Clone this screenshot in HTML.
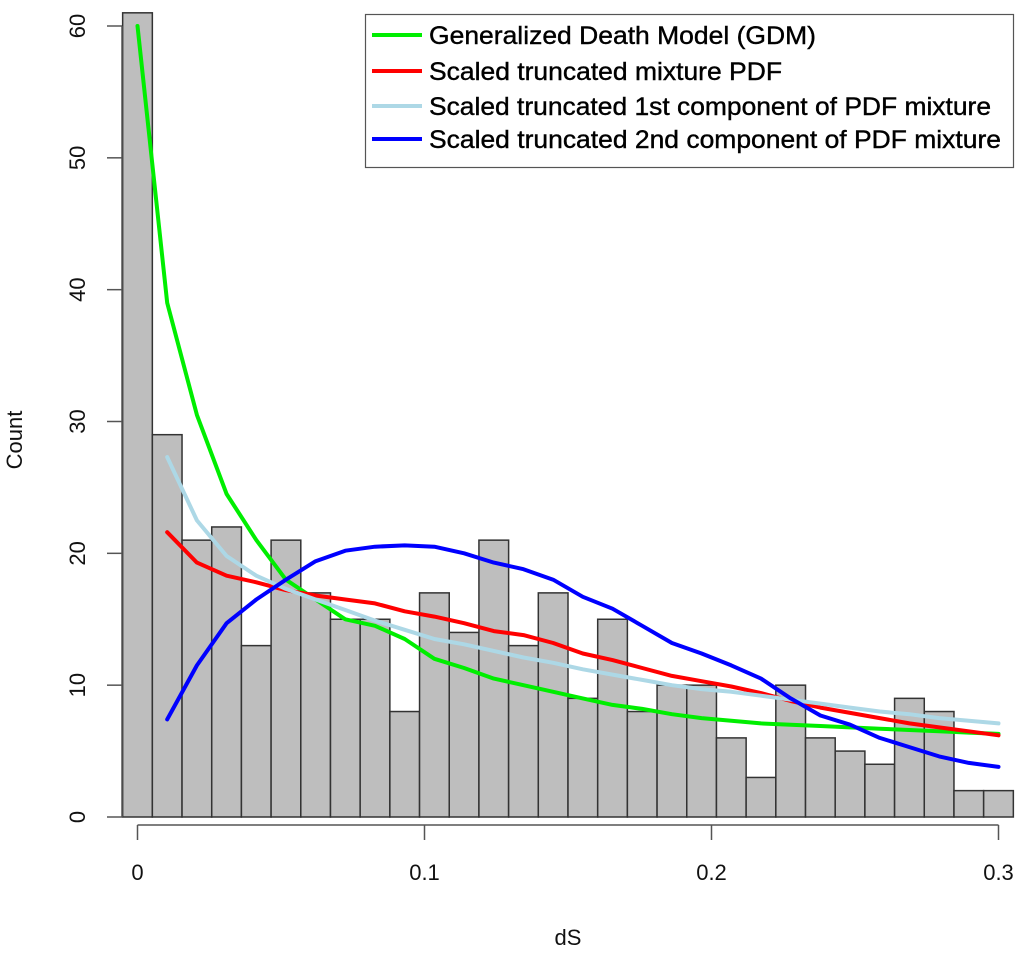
<!DOCTYPE html>
<html><head><meta charset="utf-8"><style>
body{margin:0;background:#fff;}
svg{display:block;font-family:"Liberation Sans",sans-serif;}
</style></head><body>
<svg id="chart" width="1024" height="953" viewBox="0 0 1024 953">
<g id="bars"></g>
<g id="lines"></g>
<g id="axes"></g>
<text x="568" y="945" font-size="22" text-anchor="middle" fill="#111">dS</text>
<text transform="translate(22,440) rotate(-90)" font-size="22" text-anchor="middle" fill="#111">Count</text>
<g>
<rect x="365.5" y="14.5" width="648" height="153" fill="#fff" stroke="#555" stroke-width="1.2"/>
<g id="legend-items"></g>
</g>
</svg>
<script>
const counts=[61,29,21,22,13,21,17,15,15,8,17,14,21,13,17,9,15,8,10,10,6,3,10,6,5,4,9,8,2,2];
const gdm=[60,39,30.5,24.5,21,18,16.5,15,14.5,13.5,12,11.3,10.5,10,9.5,9,8.5,8.2,7.8,7.5,7.3,7.1,7,6.9,6.8,6.7,6.6,6.5,6.4,6.3];
const mixture=[null,21.6,19.3,18.3,17.8,17.2,16.8,16.5,16.2,15.6,15.2,14.7,14.1,13.8,13.2,12.4,11.9,11.3,10.7,10.3,9.9,9.4,8.8,8.3,7.9,7.5,7.1,6.8,6.5,6.2];
const comp1=[null,27.3,22.5,19.8,18.3,17.3,16.5,15.7,14.9,14.2,13.5,13.1,12.6,12.1,11.7,11.2,10.8,10.4,10.0,9.7,9.5,9.2,8.9,8.6,8.3,8.0,7.8,7.5,7.3,7.1];
const comp2=[null,7.4,11.5,14.7,16.5,18,19.4,20.2,20.5,20.6,20.5,20.0,19.3,18.8,18.0,16.7,15.8,14.5,13.2,12.4,11.5,10.5,9.0,7.7,7.0,6.0,5.3,4.6,4.1,3.8];
const xTicks=[0,0.1,0.2,0.3];
const xTickLabels=["0","0.1","0.2","0.3"];
const yTicks=[0,10,20,30,40,50,60];
const legendLabels=["Generalized Death Model (GDM)","Scaled truncated mixture PDF","Scaled truncated 1st component of PDF mixture","Scaled truncated 2nd component of PDF mixture"];
const legendColors=["#00ee00","#ff0000","#add8e6","#0000ff"];

const binW=0.3/29;
const x=v=>137.5+v*(998.5-137.5)/0.3;
const y=v=>817-v*(817-26)/60;
const NS="http://www.w3.org/2000/svg";
function mk(tag,attrs,parent){const e=document.createElementNS(NS,tag);for(const k in attrs)e.setAttribute(k,attrs[k]);parent.appendChild(e);return e;}
const bars=document.getElementById('bars');
counts.forEach((c,i)=>{
  const x0=x(i*binW-binW/2),x1=x(i*binW+binW/2);
  const r=mk('rect',{x:x0,y:y(c),width:x1-x0,height:y(0)-y(c),fill:'#bebebe',stroke:'#333','stroke-width':1.5},bars);
  
  
});
const lines=document.getElementById('lines');
[[gdm,'#00ee00','gdm-line'],[mixture,'#ff0000','mixture-line'],[comp1,'#add8e6','component1-line'],[comp2,'#0000ff','component2-line']].forEach(([arr,col,name])=>{
  const pts=[];arr.forEach((v,i)=>{if(v!=null)pts.push(x(i*binW).toFixed(1)+','+y(v).toFixed(1));});
  const p=mk('polyline',{points:pts.join(' '),fill:'none',stroke:col,'stroke-width':4,'stroke-linejoin':'round','stroke-linecap':'round'},lines);
  
  
});
const axes=document.getElementById('axes');
const xa=mk('line',{x1:x(0),x2:x(0.3),y1:825,y2:825,stroke:'#555','stroke-width':1.5},axes);


xTicks.forEach((t,i)=>{
  mk('line',{x1:x(t),x2:x(t),y1:825,y2:840,stroke:'#555','stroke-width':1.5},axes);
  const tx=mk('text',{x:x(t),y:880,'font-size':22,'text-anchor':'middle',fill:'#111'},axes);
  tx.textContent=xTickLabels[i];
  
  
});
const ya=mk('line',{x1:122,x2:122,y1:y(0),y2:y(60),stroke:'#555','stroke-width':1.5},axes);


yTicks.forEach(t=>{
  mk('line',{x1:107,x2:122,y1:y(t),y2:y(t),stroke:'#555','stroke-width':1.5},axes);
  const tx=mk('text',{transform:`translate(85,${y(t)}) rotate(-90)`,'font-size':22,'text-anchor':'middle',fill:'#111'},axes);
  tx.textContent=String(t);
  
  
});
const legendWidths=[387,353,562,572];
const li=document.getElementById('legend-items');
legendLabels.forEach((lab,i)=>{
  const yy=[35,71,106,139][i];
  const g=mk('g',{},li);
  
  
  mk('line',{x1:372,x2:422,y1:yy,y2:yy,stroke:legendColors[i],'stroke-width':4},g);
  const t=mk('text',{x:429,y:yy+9,'font-size':25,fill:'#000',stroke:'#000','stroke-width':0.4,textLength:legendWidths[i],lengthAdjust:'spacingAndGlyphs'},g);
  t.textContent=lab;
});
</script>
</body></html>
